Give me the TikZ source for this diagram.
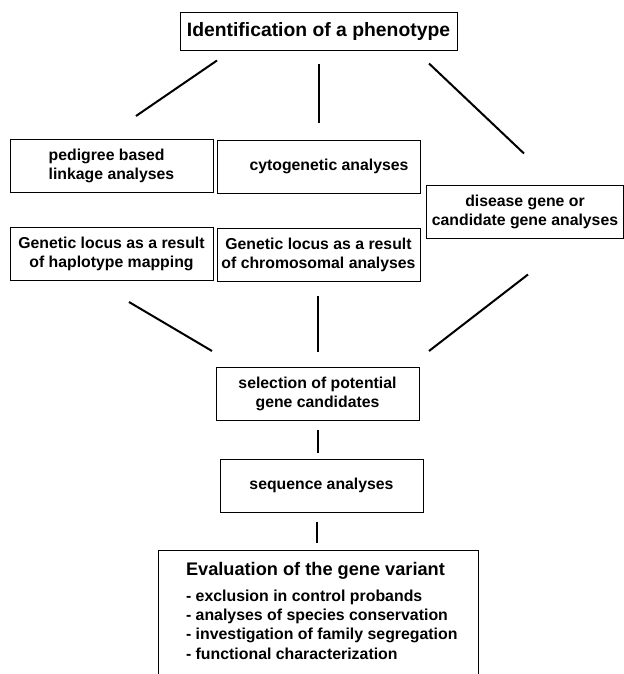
\documentclass[tikz,border=0pt]{standalone}
\usepackage{fontspec}
\setmainfont{Liberation Sans}
\usepackage{tikz}
\usetikzlibrary{positioning}
\usetikzlibrary{calc}
\tikzset{>=latex}
\tikzset{phenobox/.style={rectangle, draw, line width=0.75pt, minimum width=207.75pt, minimum height=28.5pt, inner sep=0pt, font=\fontsize{14.5}{17}\selectfont\bfseries}}
\tikzset{stage/.style={rectangle, draw, line width=0.75pt, minimum width=152.25pt, minimum height=39.75pt, inner sep=0pt, align=center, font=\fontsize{11.85}{14.25}\selectfont\bfseries}}
\tikzset{finalbox/.style={rectangle, draw, line width=0.75pt, minimum width=240pt, inner sep=0pt, font=\bfseries}}
\tikzset{link/.style={line width=1.5pt}}

\begin{document}
\begin{tikzpicture}[x=0.75pt, y=-0.75pt]
    \useasboundingbox (0,0) rectangle (624,674);

    \node [phenobox] (phenotype) at (318.5,32) {Identification of a phenotype};

    \node [stage, align=left] (pedigree) at (111.5,166) {pedigree based\\linkage analyses};
    \node [stage] (cytogenetic) at (318.5,166.5) {\hspace*{15.75pt}cytogenetic analyses};
    \node [stage, minimum width=147.75pt] (candidate) at (525,211.5) {disease gene or\\candidate gene analyses};
    \node [stage] (haplotype) at (111.5,254) {Genetic locus as a result\\of haplotype mapping};
    \node [stage] (chromosomal) at (318.5,254.5) {Genetic locus as a result\\of chromosomal analyses};

    \node [stage] (selection) at (317.5,394) {selection of potential\\gene candidates};
    \node [stage] (sequence) at (321.5,485.5) {sequence analyses};

    \node [finalbox] (evaluation) at (318,613) {\parbox[c][94.5pt][t]{240pt}{%
        \leftskip=21pt \rightskip=0pt plus 1fil
        \vspace*{9pt}\fontsize{11.9}{14.5}\selectfont
        {\fontsize{13.65}{14.5}\selectfont Evaluation of the gene variant\par}
        \vspace{5pt}
        - exclusion in control probands\\
        - analyses of species conservation\\
        - investigation of family segregation\\
        - functional characterization\par}};

    \draw [link] ($(phenotype.south)+(-101.5,9)$) -- ($(pedigree.north)+(24.5,-23)$);
    \draw [link] ($(phenotype.south)+(0,13)$) -- ($(cytogenetic.north)+(0,-17)$);
    \draw [link] ($(phenotype.south)+(110.5,12)$) -- ($(candidate.north)+(-1,-31)$);

    \draw [link] ($(haplotype.south)+(17.5,21)$) -- ($(selection.north)+(-105.5,-16)$);
    \draw [link] ($(chromosomal.south)+(-0.5,14)$) -- ($(selection.north)+(0.5,-15)$);
    \draw [link] ($(candidate.south)+(3,36)$) -- ($(selection.north)+(111.5,-16)$);

    \draw [link] ($(selection.south)+(0.5,9)$) -- ($(sequence.north)+(-3.5,-6)$);
    \draw [link] ($(sequence.south)+(-4.5,9)$) -- ($(evaluation.north)+(-1,-7)$);

\end{tikzpicture}
\end{document}
